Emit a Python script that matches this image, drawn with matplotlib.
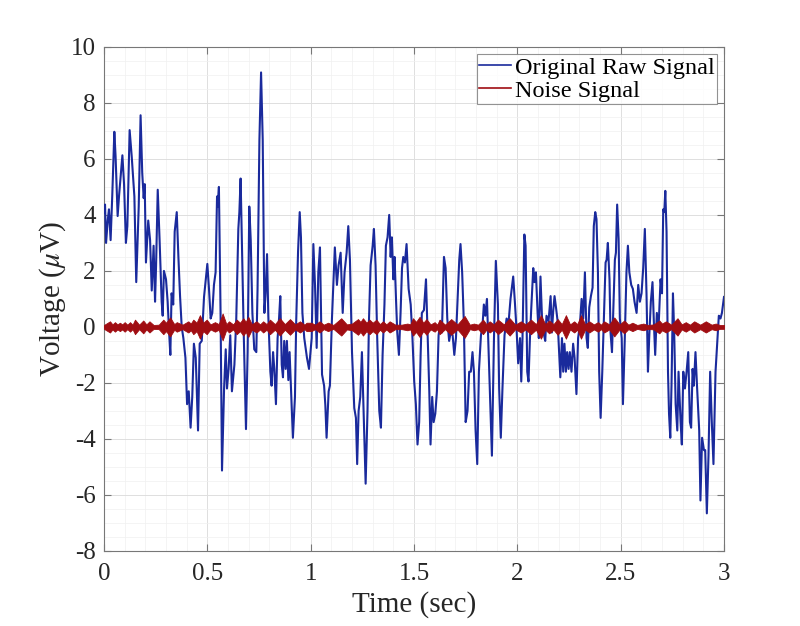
import numpy as np
import matplotlib
matplotlib.use('Agg')
import matplotlib.pyplot as plt
from matplotlib.ticker import MultipleLocator

# Original raw signal: turning points (sec, uV)
raw_t = [
    0.000, 0.005, 0.010, 0.018, 0.024, 0.032, 0.040, 0.050, 0.056, 0.066,
    0.073, 0.089, 0.097, 0.106, 0.113, 0.124, 0.134, 0.147, 0.156, 0.168,
    0.177, 0.185, 0.192, 0.197, 0.203, 0.214, 0.223, 0.231, 0.240, 0.247,
    0.252, 0.260, 0.269, 0.279, 0.284, 0.290, 0.300, 0.308, 0.314, 0.321,
    0.327, 0.335, 0.342, 0.352, 0.360, 0.368, 0.376, 0.384, 0.394, 0.402,
    0.410, 0.419, 0.427, 0.435, 0.444, 0.455, 0.463, 0.473, 0.484, 0.500,
    0.508, 0.516, 0.524, 0.532, 0.540, 0.547, 0.550, 0.556, 0.564, 0.571,
    0.581, 0.589, 0.595, 0.603, 0.611, 0.619, 0.631, 0.640, 0.650, 0.655,
    0.661, 0.666, 0.676, 0.687, 0.695, 0.703, 0.710, 0.718, 0.727, 0.737,
    0.743, 0.752, 0.760, 0.768, 0.776, 0.782, 0.789, 0.795, 0.805, 0.811,
    0.818, 0.824, 0.832, 0.840, 0.847, 0.853, 0.860, 0.866, 0.872, 0.879,
    0.885, 0.892, 0.898, 0.905, 0.914, 0.924, 0.930, 0.939, 0.947, 0.953,
    0.960, 0.969, 0.982, 0.992,
    1.005, 1.013, 1.021, 1.029, 1.037, 1.045, 1.055, 1.065, 1.071, 1.077,
    1.087, 1.093, 1.103, 1.117, 1.127, 1.135, 1.145, 1.155, 1.164, 1.174,
    1.182, 1.190, 1.200, 1.211, 1.219, 1.225, 1.232, 1.240, 1.248, 1.256,
    1.266, 1.275, 1.282, 1.290, 1.300, 1.306, 1.314, 1.322, 1.332, 1.340,
    1.348, 1.357, 1.364, 1.372, 1.380, 1.387, 1.393, 1.400, 1.406, 1.413,
    1.419, 1.427, 1.435, 1.442, 1.448, 1.456, 1.464, 1.474, 1.484, 1.492,
    1.501, 1.509, 1.517, 1.525, 1.532, 1.538, 1.548, 1.558, 1.566, 1.574,
    1.580, 1.588, 1.595, 1.603, 1.611, 1.619, 1.627, 1.635, 1.645, 1.653,
    1.661, 1.670, 1.677, 1.687, 1.695, 1.703, 1.712, 1.719, 1.725, 1.733,
    1.741, 1.750, 1.759, 1.767, 1.775, 1.783, 1.790, 1.798, 1.806, 1.814,
    1.824, 1.832, 1.838, 1.845, 1.853, 1.859, 1.867, 1.877, 1.887, 1.896,
    1.906, 1.912, 1.920, 1.928, 1.938, 1.948, 1.957, 1.967, 1.980, 1.988,
    1.997, 2.004, 2.013, 2.019, 2.025, 2.034, 2.040, 2.048, 2.054, 2.061,
    2.067, 2.077, 2.083, 2.090, 2.098, 2.104, 2.112, 2.119, 2.127, 2.135,
    2.141, 2.151, 2.161, 2.167, 2.174, 2.180, 2.187, 2.195, 2.203, 2.208,
    2.216, 2.222, 2.228, 2.235, 2.241, 2.248, 2.254, 2.262, 2.270, 2.277,
    2.286, 2.294, 2.303, 2.311, 2.319, 2.327, 2.335, 2.341, 2.348, 2.356,
    2.364, 2.370, 2.377, 2.383, 2.390, 2.396, 2.403, 2.411, 2.419, 2.427,
    2.432, 2.438, 2.446, 2.451, 2.458, 2.464, 2.472, 2.477, 2.483, 2.490,
    2.496, 2.505, 2.511, 2.520, 2.528, 2.535, 2.542, 2.551, 2.559, 2.567,
    2.577, 2.585, 2.593, 2.601, 2.609, 2.617, 2.625, 2.632, 2.638, 2.646,
    2.654, 2.661, 2.667, 2.675, 2.683, 2.693, 2.700, 2.706, 2.711, 2.716,
    2.722, 2.729, 2.734, 2.740, 2.746, 2.753, 2.759, 2.766, 2.774, 2.780,
    2.790, 2.796, 2.803, 2.811, 2.819, 2.827, 2.835, 2.841, 2.848, 2.854,
    2.862, 2.870, 2.880, 2.886, 2.894, 2.903, 2.909, 2.917, 2.925, 2.933,
    2.941, 2.949, 2.959, 2.967, 2.975, 2.983, 2.990, 3.000,
]
raw_v = [
    4.1, 4.37, 3.0, 3.8, 4.2, 3.1, 4.7, 6.97, 6.1, 3.96,
    4.7, 6.13, 5.1, 3.0, 3.6, 7.03, 6.1, 4.66, 1.6, 4.3,
    7.56, 5.5, 4.6, 5.1, 2.3, 3.8, 3.1, 1.3, 2.9, 0.9,
    2.2, 4.9, 3.1, 0.9, 0.4, 2.0, 1.7, 0.9, -0.05, -1.0,
    1.2, 0.8, 3.4, 4.1, 2.5, 1.1, 0.0, -0.4, -1.1, -2.76,
    -2.3, -3.6, -2.5, -0.6, -1.1, -3.7, -0.6, -0.5, 1.07, 2.25,
    1.36, 0.3, 0.5, 1.5, 1.95, 4.66, 4.3, 5.0, 0.5, -5.13,
    -2.2, -0.8, -2.2, -1.5, -0.3, -2.3, -1.35, 0.3, 3.5, 4.1,
    5.3, 3.5, -0.2, -3.65, -0.9, 4.3, 3.1, 0.5, -0.8, -0.9,
    1.36, 6.68, 9.09, 6.68, 0.5, 1.2, 2.6, 0.4, -1.6, -2.1,
    -0.9, -1.5, -2.76, -0.4, 0.3, 1.1, -1.35, -1.8, -0.5, -1.5,
    -0.5, -1.9, -0.9, -2.2, -3.96, -2.5, 0.2, 2.7, 4.1, 3.2,
    0.5, -0.4, -1.1, -1.5,
    -0.4, 2.96, 1.5, -0.75, 1.95, 2.84, -1.7, -2.1, -2.8, -3.96,
    -2.3, -2.1, 0.3, 2.84, 1.5, 2.2, 2.65, 0.5, 1.95, 2.65,
    3.6, 2.4, -0.9, -2.9, -3.25, -4.9, -3.0, -2.5, -0.9, -3.0,
    -5.6, -3.0, 0.2, 2.2, 2.9, 3.5, 2.2, -0.4, -3.0, -3.6,
    -1.0, 0.8, 2.9, 3.2, 4.0, 2.5, 3.2, 1.7, 2.5, 0.98,
    -0.2, -1.0, 0.5, 2.1, 2.5, 2.3, 2.96, 1.36, 0.8, -0.3,
    -1.95, -2.76, -4.2, -3.4, -1.0, 0.5, 0.6, 1.7, -0.3, -2.3,
    -4.2, -2.5, -3.4, -3.1, -2.3, -0.3, 0.2, -0.2, 2.5, 2.1,
    0.3, -0.5, -0.2, -0.3, -1.0, -0.4, 1.2, 2.4, 2.96, 1.95,
    0.2, -3.4, -3.0, -1.6, -1.6, -0.9, -1.6, -3.7, -4.9, -1.6,
    -0.3, 0.1, 0.8, 0.4, 1.0, -0.4, -2.2, -4.6, -0.4, 2.36,
    0.8, -2.2, -3.96, -2.2, -0.3, 0.3, 0.1, 1.0, 1.8, 0.9,
    -0.2, -1.3, -0.4, -1.95, -0.4, 3.3, 2.9, -1.6, -1.95, -0.4,
    0.6, 2.1, 1.6, 1.95, 0.5, -0.4, 1.8, 0.4, -0.2, -0.5,
    0.4, 0.2, 1.1, -0.2, 0.6, 1.1, 0.7, 0.2, -1.0, -1.8,
    -0.4, -1.6, -0.6, -1.6, -0.9, -1.5, -0.9, -1.6, -0.6, -1.1,
    -2.4, -0.4, 0.1, 1.0, 0.3, 1.95, -0.4, -0.75, 0.7, 1.1,
    1.4, 3.6, 4.1, 3.85, 1.95, -1.6, -3.25, -1.6, 0.4, 2.3,
    2.4, 3.0, 1.7, -0.2, -0.9, 0.5, 2.4, 2.65, 4.37, 3.15,
    0.3, -0.4, -2.76, -0.4, 1.95, 2.9, 1.95, 1.5, 1.36, 0.9,
    0.5, 1.5, 0.9, 1.2, 2.1, 3.5, 1.2, -1.6, -0.4, 0.9,
    1.6, 0.1, -1.0, 0.5, -0.1, 1.7, 1.2, 4.2, 4.1, 4.86,
    3.4, -1.6, -3.1, -3.96, -2.1, 1.2, -0.2, -2.76, -3.7, -1.6,
    -3.4, -4.2, -1.6, -2.2, -1.6, -0.9, -3.4, -3.6, -1.5, -2.1,
    -0.9, -2.2, -3.7, -6.2, -3.96, -4.4, -4.4, -6.66, -4.6, -1.6,
    -3.4, -4.9, -1.6, -0.6, 0.4, 0.3, 0.5, 1.07,
]

# Noise signal: envelope of the bursts (sec, uV)
noise_t = [
    0.000, 0.029, 0.041, 0.053, 0.065, 0.077, 0.088, 0.100, 0.113, 0.126,
    0.138, 0.150, 0.170, 0.190, 0.205, 0.220, 0.240, 0.265, 0.287, 0.300,
    0.320, 0.340, 0.352, 0.380, 0.408, 0.420, 0.432, 0.448, 0.464, 0.480,
    0.497, 0.515, 0.537, 0.555, 0.574, 0.592, 0.605, 0.625, 0.642, 0.658,
    0.674, 0.686, 0.698, 0.715, 0.738, 0.755, 0.770, 0.787, 0.803, 0.827,
    0.851, 0.875, 0.900, 0.925, 0.948, 0.970, 0.980, 1.003, 1.022, 1.043,
    1.063, 1.084, 1.110, 1.148, 1.175, 1.200, 1.229, 1.241, 1.253, 1.270,
    1.285, 1.300, 1.318, 1.335, 1.350, 1.366, 1.382, 1.410, 1.440, 1.468,
    1.482, 1.495, 1.510, 1.527, 1.545, 1.560, 1.580, 1.600, 1.612, 1.624,
    1.650, 1.680, 1.710, 1.745, 1.770, 1.790, 1.810, 1.834, 1.850, 1.866,
    1.886, 1.906, 1.935, 1.963, 1.990, 2.017, 2.040, 2.066, 2.090, 2.114,
    2.135, 2.154, 2.175, 2.195, 2.215, 2.235, 2.255, 2.275, 2.290, 2.308,
    2.328, 2.348, 2.370, 2.390, 2.405, 2.420, 2.445, 2.469, 2.495, 2.517,
    2.537, 2.557, 2.580, 2.610, 2.630, 2.660, 2.687, 2.700, 2.719, 2.745,
    2.775, 2.795, 2.815, 2.835, 2.856, 2.885, 2.912, 2.940, 2.960, 2.980,
    3.000,
]
noise_amp = [
    0.07, 0.20, 0.09, 0.17, 0.09, 0.15, 0.09, 0.17, 0.08, 0.17,
    0.08, 0.26, 0.08, 0.23, 0.09, 0.20, 0.07, 0.08, 0.26, 0.15,
    0.34, 0.10, 0.17, 0.08, 0.20, 0.12, 0.26, 0.15, 0.42, 0.15,
    0.26, 0.09, 0.17, 0.10, 0.48, 0.10, 0.20, 0.09, 0.26, 0.15,
    0.31, 0.18, 0.36, 0.10, 0.20, 0.09, 0.20, 0.10, 0.26, 0.10,
    0.31, 0.10, 0.28, 0.09, 0.20, 0.08, 0.15, 0.15, 0.08, 0.20,
    0.08, 0.15, 0.07, 0.31, 0.09, 0.12, 0.28, 0.18, 0.31, 0.15,
    0.26, 0.15, 0.26, 0.10, 0.20, 0.09, 0.20, 0.08, 0.08, 0.12,
    0.09, 0.31, 0.18, 0.36, 0.15, 0.28, 0.09, 0.17, 0.08, 0.26,
    0.08, 0.28, 0.09, 0.39, 0.08, 0.12, 0.08, 0.26, 0.10, 0.20,
    0.09, 0.26, 0.09, 0.31, 0.08, 0.20, 0.09, 0.26, 0.10, 0.42,
    0.10, 0.23, 0.10, 0.28, 0.10, 0.42, 0.09, 0.20, 0.10, 0.42,
    0.09, 0.20, 0.09, 0.17, 0.08, 0.20, 0.09, 0.34, 0.09, 0.23,
    0.08, 0.15, 0.07, 0.12, 0.07, 0.09, 0.23, 0.12, 0.20, 0.08,
    0.31, 0.09, 0.17, 0.08, 0.20, 0.08, 0.20, 0.08, 0.12, 0.07,
    0.07,
]

blue = '#1a2a9c'
red = '#a00d12'

plt.rcParams['font.family'] = ['Liberation Serif', 'DejaVu Serif']
plt.rcParams['mathtext.fontset'] = 'stix'
plt.rcParams['axes.unicode_minus'] = False

fig = plt.figure(figsize=(8, 6.26), dpi=100)
ax = fig.add_axes([0.13, 0.12, 0.775, 0.805])

ax.plot(raw_t, raw_v, color=blue, lw=1.5, label='Original Raw Signal', zorder=3)

noise_amp = np.array(noise_amp)
ax.fill_between(noise_t, -noise_amp, noise_amp, color=red, lw=0.6, zorder=4)
ax.plot(noise_t, np.zeros(len(noise_t)), color=red, lw=1.3, label='Noise Signal', zorder=4)

ax.set_xlim(0, 3)
ax.set_ylim(-8, 10)
ax.xaxis.set_major_locator(MultipleLocator(0.5))
ax.xaxis.set_minor_locator(MultipleLocator(0.1))
ax.yaxis.set_major_locator(MultipleLocator(2))
ax.yaxis.set_minor_locator(MultipleLocator(0.5))
ax.set_xticks([0, 0.5, 1, 1.5, 2, 2.5, 3])
ax.set_xticklabels(['0', '0.5', '1', '1.5', '2', '2.5', '3'])

ax.grid(which='major', color='#dedede', lw=0.7)
ax.grid(which='minor', color='#f0f0f0', lw=0.5)
ax.set_axisbelow(True)
ax.tick_params(which='both', direction='in', top=True, right=True, colors='#777777',
               labelcolor='#262626')
ax.tick_params(which='major', length=5, labelsize=18)
ax.tick_params(axis='x', which='major', pad=9)
ax.tick_params(axis='y', which='major', pad=6)
ax.tick_params(which='minor', length=0)
for s in ax.spines.values():
    s.set_color('#777777')
    s.set_linewidth(0.8)

ax.set_xlabel('Time (sec)', fontsize=21, color='#262626', labelpad=4)
ax.set_ylabel('Voltage ($\\mu$V)', fontsize=21, color='#262626', labelpad=2)

leg = ax.legend(loc='upper right', fontsize=17.5, frameon=True, fancybox=False,
                edgecolor='#777777', handlelength=1.3, handletextpad=0.15,
                borderpad=0.1, labelspacing=0.05, borderaxespad=0.3)
leg.get_frame().set_linewidth(0.8)
for h in leg.get_lines():
    h.set_linewidth(1.2)

fig.savefig('out.png', dpi=100, facecolor='white')
